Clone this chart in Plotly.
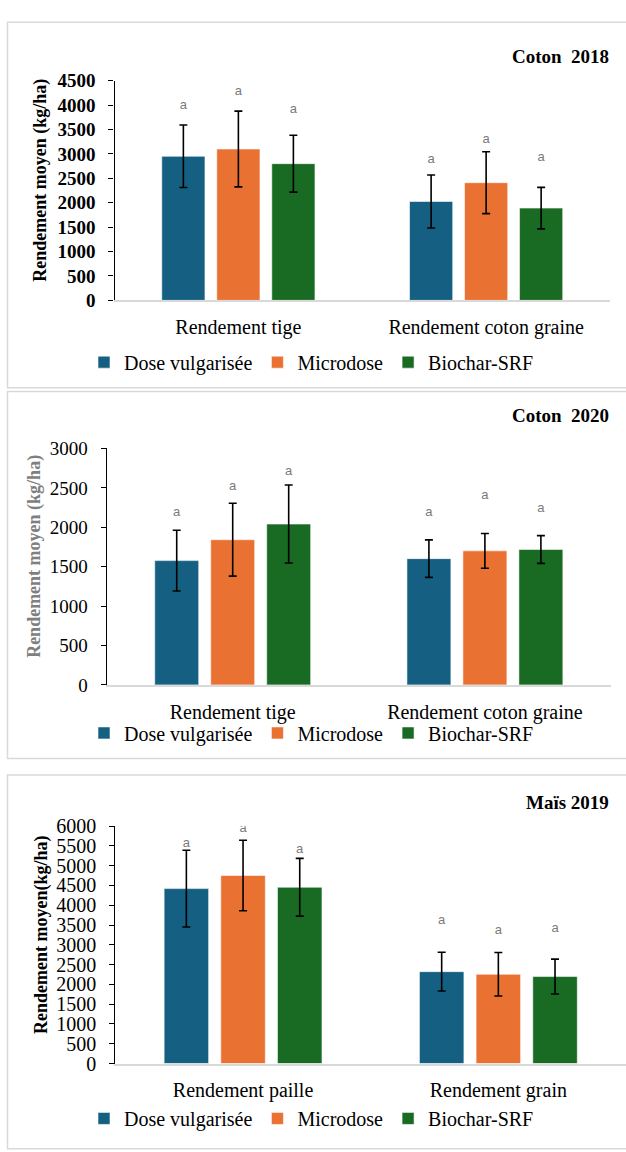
import plotly.graph_objects as go

W, H = 626, 1152

# ---------------- data ----------------
series = ["Dose vulgarisée", "Microdose", "Biochar-SRF"]
colors = ["#156082", "#E97132", "#196B24"]

# Panel 1 : Coton 2018
cats_2018 = ["Rendement tige", "Rendement coton graine"]
dose_2018 = [2950, 2025]
micro_2018 = [3100, 2410]
bio_2018 = [2800, 1890]
dose_2018_err = [640, 543]
micro_2018_err = [775, 633]
bio_2018_err = [583, 425]
dose_2018_lab = [3990, 2870]
micro_2018_lab = [4280, 3280]
bio_2018_lab = [3900, 2930]

# Panel 2 : Coton 2020
cats_2020 = ["Rendement tige", "Rendement coton graine"]
dose_2020 = [1577, 1602]
micro_2020 = [1842, 1701]
bio_2020 = [2041, 1718]
dose_2020_err = [385, 238]
micro_2020_err = [462, 220]
bio_2020_err = [495, 176]
dose_2020_lab = [2180, 2187]
micro_2020_lab = [2510, 2398]
bio_2020_lab = [2710, 2241]

# Panel 3 : Maïs 2019
cats_2019 = ["Rendement paille", "Rendement grain"]
dose_2019 = [4421, 2322]
micro_2019 = [4752, 2256]
bio_2019 = [4455, 2198]
dose_2019_err = [970, 490]
micro_2019_err = [890, 550]
bio_2019_err = [730, 440]
dose_2019_lab = [5545, 3620]
micro_2019_lab = [5934, 3355]
bio_2019_lab = [5405, 3413]

y_ticks_2018 = [0, 500, 1000, 1500, 2000, 2500, 3000, 3500, 4000, 4500]
y_ticks_2020 = [0, 500, 1000, 1500, 2000, 2500, 3000]
y_ticks_2019 = [0, 500, 1000, 1500, 2000, 2500, 3000, 3500, 4000, 4500, 5000, 5500, 6000]

panels = [
    dict(title="Coton  2018", cats=cats_2018,
         vals=[dose_2018, micro_2018, bio_2018],
         errs=[dose_2018_err, micro_2018_err, bio_2018_err],
         labs=[dose_2018_lab, micro_2018_lab, bio_2018_lab],
         yticks=y_ticks_2018, ylabel="Rendement moyen (kg/ha)",
         ylabel_color="#000000", tick_bold=True, tick_size=19),
    dict(title="Coton  2020", cats=cats_2020,
         vals=[dose_2020, micro_2020, bio_2020],
         errs=[dose_2020_err, micro_2020_err, bio_2020_err],
         labs=[dose_2020_lab, micro_2020_lab, bio_2020_lab],
         yticks=y_ticks_2020, ylabel="Rendement moyen (kg/ha)",
         ylabel_color="#7f7f7f", tick_bold=False, tick_size=19),
    dict(title="Maïs 2019", cats=cats_2019,
         vals=[dose_2019, micro_2019, bio_2019],
         errs=[dose_2019_err, micro_2019_err, bio_2019_err],
         labs=[dose_2019_lab, micro_2019_lab, bio_2019_lab],
         yticks=y_ticks_2019, ylabel="Rendement moyen(kg/ha)",
         ylabel_color="#000000", tick_bold=False, tick_size=20),
]

# ---------------- layout geometry (pixels) ----------------
px = lambda x: x / W
py = lambda y: 1 - y / H
geo = [
    dict(x0=114.5, x1=610, ybot=295, ytop=71, frame=(7.5, 11.5, 384), title_y=46,
         ylab_x=41, leg_y=358),
    dict(x0=106.6, x1=611, ybot=687, ytop=446, frame=(7.5, 388, 762), title_y=412,
         ylab_x=35, leg_y=736),
    dict(x0=115.4, x1=626, ybot=1073, ytop=831, frame=(7.5, 779, 1160), title_y=807,
         ylab_x=41, leg_y=1129),
]

SERIF = "Liberation Serif, Times New Roman, serif"
SANS = "Liberation Sans, Arial, sans-serif"

fig = go.Figure()
shapes, annotations = [], []
layout_axes = {}

for i, (p, g) in enumerate(zip(panels, geo)):
    n = "" if i == 0 else str(i + 1)
    xa, ya = "x" + n, "y" + n
    leg = "legend" + n
    for s, c, v, e in zip(series, colors, p["vals"], p["errs"]):
        fig.add_trace(go.Bar(
            x=p["cats"], y=v, name=s,
            marker=dict(color=c, line=dict(color="rgba(255,255,255,0.55)", width=1)),
            error_y=dict(type="data", array=e, visible=True, color="#000000", thickness=1.6, width=4),
            xaxis=xa, yaxis=ya, legend=leg, showlegend=True, hoverinfo="skip",
        ))
    for s, lab in zip(series, p["labs"]):
        fig.add_trace(go.Scatter(
            x=p["cats"], y=lab, mode="text", text=["a"] * len(lab),
            textposition="middle center",
            textfont=dict(family=SANS, size=13, color="#7a7a7a"),
            xaxis=xa, yaxis=ya, showlegend=False, hoverinfo="skip",
        ))
    layout_axes["xaxis" + n] = dict(
        domain=[px(g["x0"]), px(g["x1"])], anchor=ya, type="category",
        range=[-0.5, len(p["cats"]) - 0.5],
        showline=True, linecolor="#d9d9d9", linewidth=1.5, ticks="",
        showgrid=False, zeroline=False, ticklabelstandoff=8,
        tickfont=dict(family=SERIF, size=20, color="#000000"), fixedrange=True,
    )
    layout_axes["yaxis" + n] = dict(
        domain=[py(g["ybot"]), py(g["ytop"])], anchor=xa,
        range=[p["yticks"][0], p["yticks"][-1]], tickvals=p["yticks"],
        showline=True, linecolor="#000000", linewidth=1.2, ticks="outside",
        ticklen=5, tickcolor="#000000", tickwidth=1.2, showgrid=False, zeroline=False,
        ticklabelstandoff=9,
        tickfont=dict(family=SERIF, size=p["tick_size"], color="#000000",
                      weight="bold" if p["tick_bold"] else "normal"),
        fixedrange=True,
    )
    layout_axes[leg] = dict(
        orientation="h", x=px(84), xanchor="left", y=py(g["leg_y"]), yanchor="middle",
        font=dict(family=SERIF, size=20, color="#000000"), bgcolor="rgba(0,0,0,0)",
        itemclick=False, itemdoubleclick=False,
    )
    fx0, fy0, fy1 = g["frame"]
    shapes.append(dict(type="rect", xref="paper", yref="paper",
                       x0=px(fx0), x1=px(640), y0=py(fy1), y1=py(fy0),
                       line=dict(color="#d9d9d9", width=1.5), fillcolor="rgba(0,0,0,0)", layer="below"))
    annotations.append(dict(xref="paper", yref="paper", x=px(611), y=py(g["title_y"]),
                            xanchor="right", yanchor="middle", text=p["title"], showarrow=False,
                            font=dict(family=SERIF, size=19, color="#000000", weight="bold")))
    annotations.append(dict(xref="paper", yref="paper", x=px(g["ylab_x"]),
                            y=py((g["ybot"] + g["ytop"]) / 2 - 10), textangle=-90,
                            xanchor="center", yanchor="middle", text=p["ylabel"], showarrow=False,
                            font=dict(family=SERIF, size=18, color=p["ylabel_color"], weight="bold")))

fig.update_layout(
    width=W, height=H, margin=dict(l=0, r=0, t=0, b=0),
    paper_bgcolor="white", plot_bgcolor="white",
    barmode="group", bargap=0.334, bargroupgap=0.215,
    scattermode="group", scattergap=0.334,
    shapes=shapes, annotations=annotations, showlegend=True,
    **layout_axes,
)

fig.write_html("out.html", config={"displayModeBar": False},
               post_script="document.body.style.margin='0px';document.body.style.overflow='hidden';")
